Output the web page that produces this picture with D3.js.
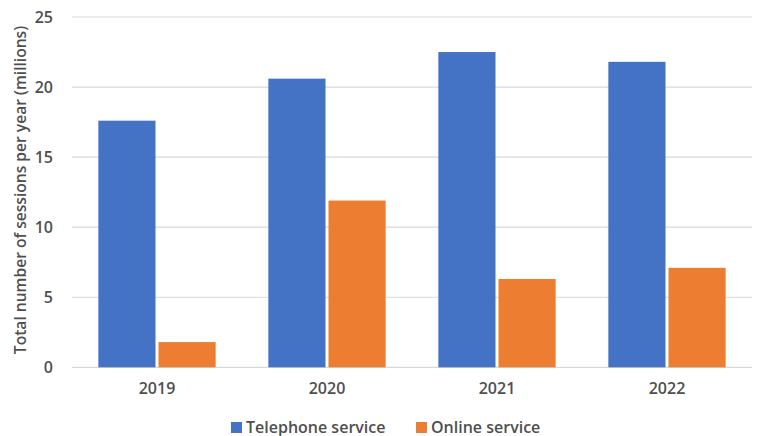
<!DOCTYPE html>
<html><head><meta charset="utf-8">
<script src="https://cdn.jsdelivr.net/npm/d3@7"></script>
<style>body{margin:0;background:#fff}svg{display:block}text{font-family:"Open Sans",sans-serif}</style>
</head><body>
<svg id="c" width="758" height="436"></svg>
<script>
const categories = ["2019","2020","2021","2022"];
const telephone = [17.6, 20.6, 22.5, 21.8];
const online = [1.8, 11.9, 6.3, 7.1];
const yTicks = [0,5,10,15,20,25];
const seriesNames = ["Telephone service","Online service"];
const colors = ["#4472C4","#ED7D31"];

const svg = d3.select("#c");
const m = {l:72, r:6, t:17, b:69};
const W = 758, H = 436;
const x = d3.scaleBand().domain(categories).range([m.l, W-m.r]).paddingInner(0.31).paddingOuter(0.155);
const x1 = d3.scaleBand().domain(seriesNames).range([0, x.bandwidth()]).paddingInner(0.05);
const y = d3.scaleLinear().domain([0,25]).range([H-m.b+0.3, m.t]);
const txt = "#4f4f4f";

svg.append("g").selectAll("line").data(yTicks).join("line")
  .attr("x1", m.l).attr("x2", W-m.r)
  .attr("y1", d=>y(d)).attr("y2", d=>y(d))
  .attr("stroke", "#d9d9d9").attr("stroke-width", 1.2);

const yAxis = svg.append("g").attr("transform", `translate(${m.l},0)`)
  .call(d3.axisLeft(y).tickValues(yTicks).tickSize(0).tickPadding(19));
yAxis.select(".domain").remove();
yAxis.selectAll("text").attr("font-size", 16).attr("fill", txt).attr("font-weight", 600);

const data = [telephone, online];
const g = svg.append("g");
categories.forEach((c, i) => {
  seriesNames.forEach((s, j) => {
    g.append("rect")
      .attr("x", x(c) + x1(s))
      .attr("width", x1.bandwidth())
      .attr("y", y(data[j][i]))
      .attr("height", y(0) - y(data[j][i]))
      .attr("fill", colors[j]);
  });
});

const xAxis = svg.append("g").attr("transform", `translate(0,${y(0)})`)
  .call(d3.axisBottom(x).tickSize(0).tickPadding(15));
xAxis.select(".domain").remove();
xAxis.selectAll("text").attr("font-size", 16).attr("fill", txt).attr("font-weight", 600);

svg.append("text")
  .attr("transform", `translate(26,190) rotate(-90)`)
  .attr("text-anchor", "middle").attr("font-size", 15.6).attr("fill", txt).attr("font-weight", 600)
  .text("Total number of sessions per year (millions)");

const legX = [231, 416];
const lg = svg.append("g");
seriesNames.forEach((s, j) => {
  lg.append("rect").attr("x", legX[j]).attr("y", 422).attr("width", 11).attr("height", 11).attr("fill", colors[j]);
  lg.append("text").attr("x", legX[j] + 15).attr("y", 432.5).attr("font-size", 16).attr("fill", txt).attr("font-weight", 600).text(s);
});
</script>
</body></html>
